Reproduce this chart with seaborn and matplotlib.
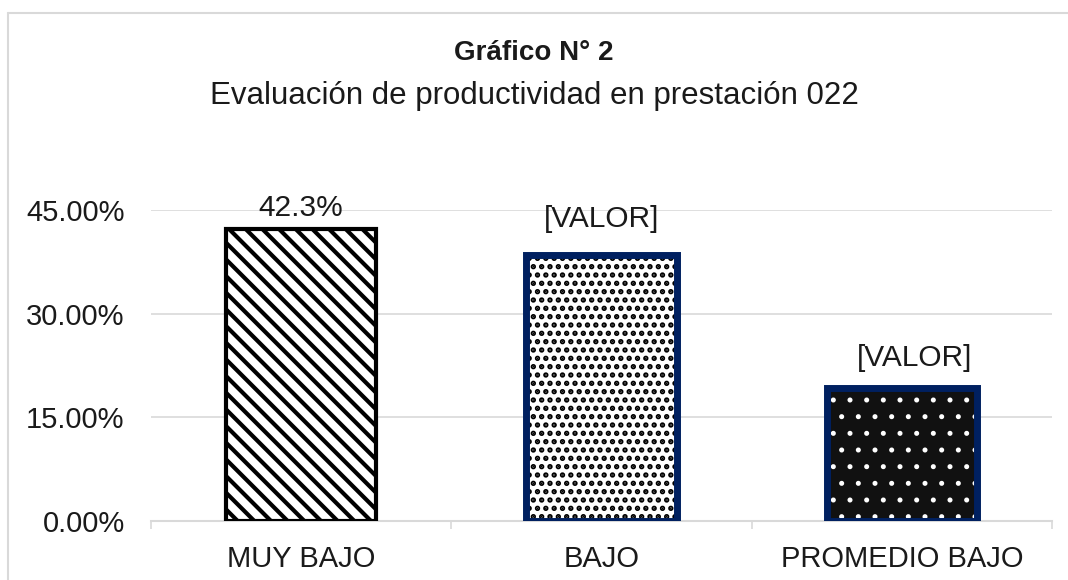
import seaborn as sns
import matplotlib.pyplot as plt
import pandas as pd
from matplotlib.lines import Line2D
from matplotlib.ticker import PercentFormatter

# datos del grafico
categorias = ["MUY BAJO", "BAJO", "PROMEDIO BAJO"]
valores = [0.423, 0.385, 0.192]
etiquetas = ["42.3%", "[VALOR]", "[VALOR]"]
y_ticks = [0.0, 0.15, 0.30, 0.45]

df = pd.DataFrame({"categoria": categorias, "valor": valores})

sns.set_theme(style="white")
plt.rcParams["font.family"] = ["Liberation Sans", "DejaVu Sans"]
plt.rcParams["hatch.linewidth"] = 3.0

fig = plt.figure(figsize=(10.68, 5.8), dpi=100)
ax = fig.add_axes([0.1414, 0.1017, 0.8436, 0.5363])

gris = "#d9d9d9"
navy = "#002060"

# primera pasada: relleno + trama (el color de trama sale del edgecolor)
sns.barplot(data=df, x="categoria", y="valor", width=0.5, color="white", ax=ax)
relleno = ["white", "white", "#111111"]
trama = ["\\\\", "..", "."]
color_trama = ["black", "black", "white"]
ancho_trama = [3.0, 2.6, 1.2]
for i, p in enumerate(ax.patches[:3]):
    p.set_facecolor(relleno[i])
    p.set_edgecolor(color_trama[i])
    p.set_linewidth(0)
    p.set_hatch(trama[i])
    if hasattr(p, "set_hatch_linewidth"):
        p.set_hatch_linewidth(ancho_trama[i])
    p.set_zorder(2)

# segunda pasada: solo contornos
sns.barplot(data=df, x="categoria", y="valor", width=0.5, fill=False, ax=ax)
borde = ["black", navy, navy]
ancho_borde = [3.0, 5.0, 5.0]
for i, p in enumerate(ax.patches[3:6]):
    p.set_facecolor("none")
    p.set_edgecolor(borde[i])
    p.set_linewidth(ancho_borde[i])
    p.set_zorder(3)

# etiquetas de datos
desplaz = [(0, 9), (0, 20), (9, 16)]
for i, (v, t) in enumerate(zip(valores, etiquetas)):
    ax.annotate(t, xy=(i, v), xytext=desplaz[i], textcoords="offset points",
                ha="center", va="baseline", fontsize=21.5, color="#1a1a1a",
                annotation_clip=False, zorder=5)

ax.set_ylim(0, 0.45)
ax.set_xlim(-0.5, 2.5)
ax.set_yticks(y_ticks)
ax.yaxis.set_major_formatter(PercentFormatter(1.0, decimals=2))
ax.yaxis.grid(True, color=gris, linewidth=1.2)
ax.set_axisbelow(True)
ax.set_xlabel("")
ax.set_ylabel("")

for s in ["left", "top", "right"]:
    ax.spines[s].set_visible(False)
ax.spines["bottom"].set_color(gris)
ax.spines["bottom"].set_linewidth(1.5)
ax.spines["bottom"].set_zorder(1)

ax.set_xticks([-0.5, 0.5, 1.5, 2.5], minor=True)
ax.tick_params(axis="x", which="minor", length=6, width=1.2, color=gris, bottom=True)
ax.tick_params(axis="x", which="major", length=0, pad=17, labelsize=21, labelcolor="#1a1a1a")
ax.tick_params(axis="y", length=0, pad=19, labelsize=21, labelcolor="#1a1a1a")

# titulos
fig.text(0.5, 0.897, "Gráfico N° 2", ha="center", va="baseline",
         fontsize=20, fontweight="bold", color="#1a1a1a")
fig.text(0.5, 0.82, "Evaluación de productividad en prestación 022", ha="center",
         va="baseline", fontsize=22.5, color="#1a1a1a")

# marco del area del grafico (recortado a la derecha y abajo)
fig.add_artist(Line2D([0.0075, 1.0], [0.9776, 0.9776], transform=fig.transFigure,
                      color=gris, linewidth=1.5))
fig.add_artist(Line2D([0.0075, 0.0075], [0.0, 0.9776], transform=fig.transFigure,
                      color=gris, linewidth=1.5))

fig.savefig("out.png", dpi=100)
